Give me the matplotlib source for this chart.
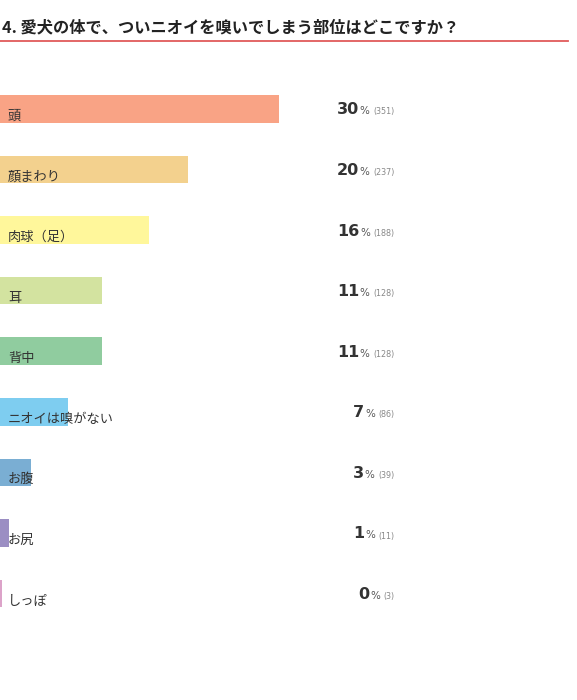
import matplotlib
matplotlib.use("Agg")
import matplotlib.pyplot as plt

plt.rcParams['font.family'] = ['Noto Sans CJK JP', 'DejaVu Sans']

title = "4. 愛犬の体で、ついニオイを嗅いでしまう部位はどこですか？"
categories = ["頭", "顔まわり", "肉球（足）", "耳", "背中", "ニオイは嗅がない", "お腹", "お尻", "しっぽ"]
percents = [30, 20, 16, 11, 11, 7, 3, 1, 0]
counts = [351, 237, 188, 128, 128, 86, 39, 11, 3]
colors = ["#F9A385", "#F3D18E", "#FFF79B", "#D3E3A0", "#90CC9F",
          "#7ECDF0", "#7AAED3", "#9B8EC3", "#DCA3C9"]

W, H = 577, 700
fig = plt.figure(figsize=(W / 100, H / 100), dpi=100)
fig.patch.set_facecolor("white")
ax = fig.add_axes([0, 0, 1, 1])
ax.axis("off")

px_per_count = 279 / 351.0
ax.set_xlim(0, W / px_per_count)
row_px = 60.6
first_px = 108.8
ax.set_ylim((H - first_px) / row_px, -first_px / row_px)

ypos = list(range(len(categories)))
ax.barh(ypos, counts, height=27.5 / row_px, color=colors, linewidth=0)

def px2x(px):
    return px / px_per_count

# category labels
for y, cat in zip(ypos, categories):
    ax.text(px2x(8), y + 7.5 / row_px, cat, fontsize=9.5, color="#333333",
            va="center", ha="left")

# title and red rule
fig.text(2 / W, 1 - 27 / H, title, fontsize=11.7, fontweight="bold",
         color="#222222", va="center", ha="left")
fig.add_artist(plt.Line2D([0, 568 / W], [1 - 41 / H, 1 - 41 / H],
                          color="#E05A5A", linewidth=1.3))

fig.canvas.draw()
renderer = fig.canvas.get_renderer()
inv = ax.transData.inverted()

right_px = 395
for y, p, c in zip(ypos, percents, counts):
    yb = y + 5.5 / row_px
    t1 = ax.text(px2x(right_px), yb, f"({c})", fontsize=5.8, color="#888888",
                 ha="right", va="baseline", family="DejaVu Sans")
    bb = t1.get_window_extent(renderer)
    x2 = inv.transform((bb.x0 - 4, 0))[0]
    t2 = ax.text(x2, yb, "%", fontsize=7.5, color="#555555",
                 ha="right", va="baseline", family="DejaVu Sans")
    bb2 = t2.get_window_extent(renderer)
    x3 = inv.transform((bb2.x0 - 0.5, 0))[0]
    ax.text(x3, yb, str(p), fontsize=11.5, fontweight="bold", color="#333333",
            ha="right", va="baseline", family="DejaVu Sans")

fig.savefig("out.png", dpi=100, facecolor="white")
